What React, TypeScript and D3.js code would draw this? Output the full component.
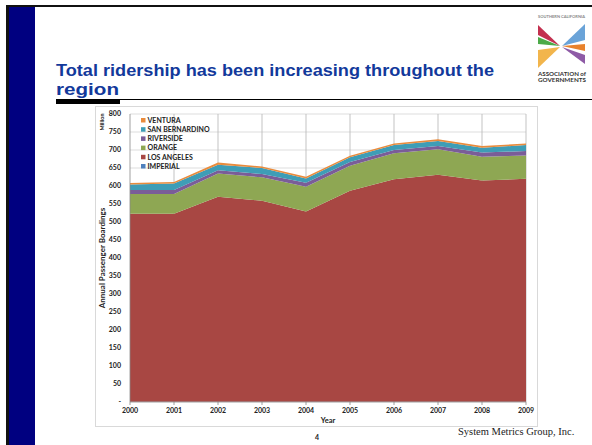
import * as React from 'react';
import * as d3 from 'd3';

// annual passenger boardings, millions
const years = [2000, 2001, 2002, 2003, 2004, 2005, 2006, 2007, 2008, 2009];
const imperial = [1, 1, 1, 1, 1, 1, 1, 1, 1, 1];
const losAngeles = [522, 522, 569, 558, 528, 586, 618, 630, 614, 619];
const orange = [55, 55, 65, 65, 69, 69, 72, 71, 66, 65];
const riverside = [11, 11, 9, 9, 11, 11, 9, 9, 12, 12];
const sanBernardino = [15, 18, 15, 17, 12, 13, 14, 14, 13, 17];
const ventura = [4, 4, 6, 4, 5, 4, 4, 5, 5, 4];

const seriesKeys = ['IMPERIAL', 'LOS ANGELES', 'ORANGE', 'RIVERSIDE', 'SAN BERNARDINO', 'VENTURA'];
const seriesValues = [imperial, losAngeles, orange, riverside, sanBernardino, ventura];
const seriesColors = ['#4f81bd', '#a84743', '#8ea753', '#7a5d98', '#3e9db6', '#e98b3c'];
const yTicks = d3.range(0, 801, 50);

const FONT = 'Lato, "DejaVu Sans", sans-serif';

export default function App() {
  const width = 592;
  const height = 445;
  const plot = { left: 130, right: 526, top: 114, bottom: 402 };

  const rows = years.map((year, i) => {
    const r: Record<string, number> = { year };
    seriesKeys.forEach((k, j) => (r[k] = seriesValues[j][i]));
    return r;
  });
  const stacked = d3.stack<Record<string, number>>().keys(seriesKeys)(rows);

  const x = d3.scaleLinear().domain([2000, 2009]).range([plot.left, plot.right]);
  const y = d3.scaleLinear().domain([0, 800]).range([plot.bottom, plot.top]);

  const area = d3
    .area<d3.SeriesPoint<Record<string, number>>>()
    .x((d) => x(d.data.year))
    .y0((d) => y(d[0]))
    .y1((d) => y(d[1]));

  const legendOrder = seriesKeys.map((k, i) => ({ key: k, color: seriesColors[i] })).reverse();

  return (
    <svg
      width={width}
      height={height}
      style={{ position: 'absolute', left: 0, top: 0, display: 'block', background: '#fff' }}
    >
      {/* slide frame */}
      <rect x={6} y={5} width={width - 6} height={2} fill="#111" />
      <rect x={6} y={5} width={3} height={height - 5} fill="#111" />
      <rect x={9} y={7} width={26} height={height - 7} fill="#000080" />

      {/* title */}
      <g fontFamily='"Liberation Sans", Arial, sans-serif' fontWeight="bold" fontSize={16.6} fill="#12399b">
        <text x={56} y={75.5} textLength={438} lengthAdjust="spacingAndGlyphs">
          Total ridership has been increasing throughout the
        </text>
        <text x={56} y={94.5} textLength={63} lengthAdjust="spacingAndGlyphs">
          region
        </text>
      </g>
      <rect x={56} y={99} width={64} height={5} fill="#000" />
      <line x1={56} x2={width} y1={99.5} y2={99.5} stroke="#000" strokeWidth={1} />

      {/* logo */}
      <g fontFamily={FONT} fontWeight="bold">
        <text x={538} y={18} fontSize={3.4} fill="#888" textLength={47} lengthAdjust="spacingAndGlyphs">
          SOUTHERN CALIFORNIA
        </text>
        <polygon points="538,25 538,35 560,46" fill="#c3304f" />
        <polygon points="538,37 538,44 560,46" fill="#4caa48" />
        <polygon points="538,50 538,68 560,47" fill="#f2b54c" />
        <polygon points="585,24 585,40 562,46" fill="#6aa3d8" />
        <polygon points="585,44 585,51 562,46" fill="#e8822c" />
        <polygon points="585,55 585,64 562,47" fill="#8e5ba6" />
        <text x={538} y={76} fontSize={4.8} fill="#333" textLength={48} lengthAdjust="spacingAndGlyphs">
          ASSOCIATION of
        </text>
        <text x={538} y={82} fontSize={4.8} fill="#333" textLength={48} lengthAdjust="spacingAndGlyphs">
          GOVERNMENTS
        </text>
      </g>

      {/* chart frame */}
      <rect x={95.5} y={106.5} width={442} height={320} fill="#fff" stroke="#d9d9d9" />

      {/* gridlines */}
      {yTicks.slice(1).map((t) => (
        <line key={'h' + t} x1={plot.left} x2={plot.right} y1={y(t)} y2={y(t)} stroke="#d4d4d4" strokeWidth={0.8} />
      ))}
      {years.slice(1).map((yr) => (
        <line key={'v' + yr} x1={x(yr)} x2={x(yr)} y1={plot.top} y2={plot.bottom} stroke="#b4b4b4" strokeWidth={0.8} />
      ))}

      {/* stacked areas */}
      {stacked.map((s, i) => (
        <path key={s.key} d={area(s) || ''} fill={seriesColors[i]} />
      ))}

      {/* axes */}
      <line x1={plot.left} x2={plot.left} y1={plot.top} y2={plot.bottom} stroke="#888" strokeWidth={0.8} />
      <line x1={plot.left} x2={plot.right} y1={plot.bottom} y2={plot.bottom} stroke="#888" strokeWidth={0.8} />
      {years.map((yr) => (
        <line key={'t' + yr} x1={x(yr)} x2={x(yr)} y1={plot.bottom} y2={plot.bottom + 3} stroke="#888" strokeWidth={0.8} />
      ))}

      <g fontFamily={FONT} fontWeight="bold" fontSize={7} fill="#222">
        {yTicks.map((t) => (
          <text key={'yl' + t} x={121} y={y(t) + 2.4} textAnchor="end">
            {t === 0 ? '-' : t}
          </text>
        ))}
        {years.map((yr) => (
          <text key={'xl' + yr} x={x(yr)} y={413} textAnchor="middle">
            {yr}
          </text>
        ))}
        <text x={(plot.left + plot.right) / 2} y={423} textAnchor="middle" fontSize={7.5}>
          Year
        </text>
        <text transform="translate(105,258) rotate(-90)" textAnchor="middle" fontSize={8}>
          Annual Passenger Boardings
        </text>
        <text transform="translate(104,122) rotate(-90)" textAnchor="middle" fontSize={5.5}>
          Million
        </text>
      </g>

      {/* legend */}
      <g fontFamily={FONT} fontWeight="bold" fontSize={7} fill="#222">
        {legendOrder.map((d, i) => (
          <g key={d.key} transform={`translate(141,${120.5 + i * 9.2})`}>
            <rect x={0} y={-2.5} width={4.5} height={4.5} fill={d.color} />
            <text x={6.5} y={2.3}>
              {d.key}
            </text>
          </g>
        ))}
      </g>

      {/* footer */}
      <text x={317} y={440} textAnchor="middle" fontFamily={FONT} fontWeight="bold" fontSize={7} fill="#222">
        4
      </text>
      <text x={458} y={435} fontFamily='"Liberation Serif", "Times New Roman", serif' fontSize={10.5} fill="#222">
        System Metrics Group, Inc.
      </text>
    </svg>
  );
}
